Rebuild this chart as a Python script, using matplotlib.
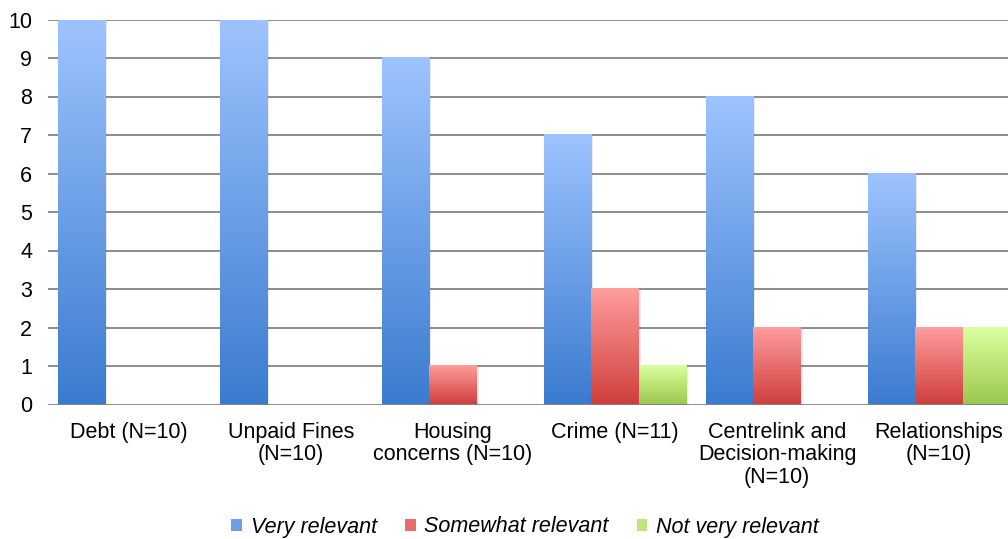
import numpy as np
import matplotlib.pyplot as plt
from matplotlib.colors import LinearSegmentedColormap
from matplotlib.patches import Patch, Rectangle

plt.rcParams['font.family'] = ['Liberation Sans', 'DejaVu Sans']

# Dati
categorie = ['Debt (N=10)', 'Unpaid Fines\n(N=10)', 'Housing\nconcerns (N=10)',
             'Crime (N=11)', 'Centrelink and\nDecision-making\n(N=10)', 'Relationships\n(N=10)']
very_relevant = [10, 10, 9, 7, 8, 6]
somewhat_relevant = [0, 0, 1, 3, 2, 2]
not_very_relevant = [0, 0, 0, 1, 0, 2]
serie = ['Very relevant', 'Somewhat relevant', 'Not very relevant']

# colori gradiente (alto, basso)
gradienti = [('#9ec4ff', '#3b7bcf'), ('#ff9d9d', '#cf3f3c'), ('#dcffa0', '#9bc84e')]

fig = plt.figure(figsize=(10.08, 5.39), dpi=100)
ax = fig.add_axes([48 / 1008, 134.5 / 539, 972 / 1008, 385 / 539])

x = np.arange(len(categorie))
w = 0.88 / 3

grad = np.linspace(1, 0, 256).reshape(-1, 1)
for i, valori in enumerate([very_relevant, somewhat_relevant, not_very_relevant]):
    cmap = LinearSegmentedColormap.from_list('g%d' % i, [gradienti[i][1], gradienti[i][0]])
    for j, v in enumerate(valori):
        if v == 0:
            continue
        x0 = x[j] - 1.5 * w + i * w
        # ombra leggera
        ax.add_patch(Rectangle((x0 + 0.012, 0), w, v - 0.03, color='#000000', alpha=0.08, lw=0, zorder=2))
        ax.imshow(grad, cmap=cmap, aspect='auto', extent=(x0, x0 + w, 0, v), zorder=3,
                  interpolation='bicubic')

ax.set_xlim(-0.5, len(categorie) - 0.5)
ax.set_ylim(0, 10)

# Griglia
ax.set_yticks(range(0, 11))
ax.yaxis.grid(True, color='#8c8c8c', linewidth=1.4, zorder=1)
ax.set_axisbelow(True)
for s in ax.spines.values():
    s.set_visible(False)
ax.tick_params(axis='y', length=0, pad=11.5, labelsize=15.5)
ax.set_xticks(x)
ax.set_xticklabels(categorie, fontsize=15.5, linespacing=1.1)
ax.tick_params(axis='x', length=0, pad=12.5)

# Legenda
handles = [Patch(facecolor=c, edgecolor='none') for c in ['#6b9fe8', '#e76e6d', '#bfe67a']]
fig.legend(handles, serie, loc='center', bbox_to_anchor=(525 / 1008, 1 - 527 / 539), ncol=3,
           frameon=False, prop={'style': 'italic', 'size': 15.5}, handlelength=0.5, handleheight=0.5,
           handletextpad=0.4, columnspacing=1.3)

plt.savefig('out.png', dpi=100)
